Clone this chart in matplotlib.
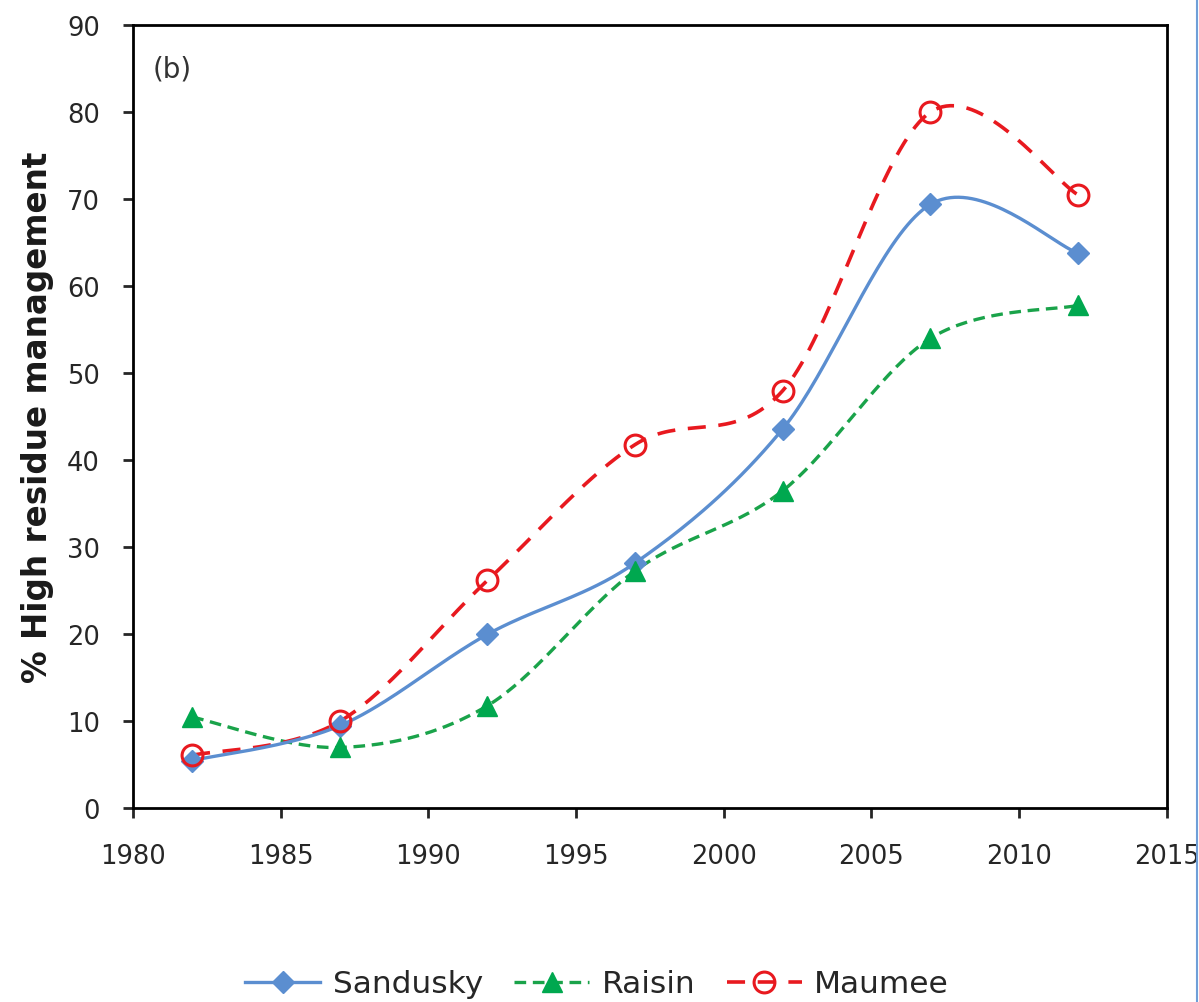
import numpy as np
from matplotlib import pyplot as plt
from matplotlib.lines import Line2D

years = [1982, 1987, 1992, 1997, 2002, 2007, 2012]
sandusky = [5.5, 9.5, 20.0, 28.2, 43.6, 69.4, 63.8]
raisin = [10.5, 7.0, 11.8, 27.3, 36.5, 54.0, 57.8]
maumee = [6.1, 10.0, 26.2, 41.8, 48.0, 80.0, 70.5]

plt.rcParams['font.family'] = ['DejaVu Sans']


def smooth(x, y, n=40):
    # spreadsheet-style smoothed line: cubic bezier through each point,
    # control handles at 1/6 of the neighbour-to-neighbour span
    x = np.asarray(x, float)
    y = np.asarray(y, float)
    px = np.concatenate([[x[0]], x, [x[-1]]])
    py = np.concatenate([[y[0]], y, [y[-1]]])
    xs, ys = [], []
    t = np.linspace(0, 1, n)
    for i in range(len(x) - 1):
        p0 = np.array([px[i + 1], py[i + 1]])
        p3 = np.array([px[i + 2], py[i + 2]])
        c1 = p0 + (np.array([px[i + 2], py[i + 2]]) - np.array([px[i], py[i]])) / 6
        c2 = p3 - (np.array([px[i + 3], py[i + 3]]) - np.array([px[i + 1], py[i + 1]])) / 6
        b = ((1 - t) ** 3)[:, None] * p0 + (3 * (1 - t) ** 2 * t)[:, None] * c1 \
            + (3 * (1 - t) * t ** 2)[:, None] * c2 + (t ** 3)[:, None] * p3
        xs.extend(b[:, 0])
        ys.extend(b[:, 1])
    return xs, ys


fig = plt.figure(figsize=(11.99, 10.03), dpi=100)
ax = fig.add_axes([0.111, 0.193, 0.862, 0.781])

blue = '#5b8ed0'
green = '#1aa34a'
red = '#e8191f'
text_col = '#262626'

sx, sy = smooth(years, sandusky)
ax.plot(sx, sy, color=blue, lw=2.4, solid_capstyle='round', zorder=3)
ax.plot(years, sandusky, ls='none', marker='D', ms=11, color=blue, zorder=4)

rx, ry = smooth(years, raisin)
ax.plot(rx, ry, color=green, lw=2.4, dashes=(3.5, 2), zorder=2)
ax.plot(years, raisin, ls='none', marker='^', ms=15, color='#00a84f', zorder=4)

mx, my = smooth(years, maumee)
ax.plot(mx, my, color=red, lw=2.6, dashes=(5, 3.5), zorder=2)
ax.plot(years, maumee, ls='none', marker='o', ms=15, mfc='none', mec=red,
        mew=2.2, color=red, zorder=4)

ax.set_xlim(1980, 2015)
ax.set_ylim(0, 90)
ax.set_xticks(range(1980, 2016, 5))
ax.set_yticks(range(0, 91, 10))
for s in ax.spines.values():
    s.set_linewidth(2)
ax.tick_params(direction='out', length=7, width=2, labelsize=18.5,
               colors=text_col)
ax.tick_params(axis='x', pad=18)
ax.tick_params(axis='y', pad=17)
ax.set_ylabel('% High residue management', fontsize=23.5, fontweight='bold',
              labelpad=9, color='#1a1a1a')
ax.text(0.019, 0.945, '(b)', transform=ax.transAxes, fontsize=20, va='center',
        color='#333333')

handles = [
    Line2D([], [], color=blue, lw=2.4, marker='D', ms=11),
    Line2D([], [], color=green, lw=2.4, dashes=(3.5, 2), marker='^', ms=15,
           mfc='#00a84f', mec='#00a84f'),
    Line2D([], [], color=red, lw=2.6, dashes=(5, 3.5), marker='o', ms=15,
           mfc='none', mec=red, mew=2.2),
]
fig.legend(handles, ['Sandusky', 'Raisin', 'Maumee'], loc='center',
           bbox_to_anchor=(0.498, 0.018), ncol=3, frameon=False, fontsize=22.5,
           handlelength=2.4, handletextpad=0.4, columnspacing=1.0,
           labelcolor=text_col)

# thin frame edge on the right side
fig.add_artist(Line2D([0.9985, 0.9985], [0, 1], color='#6f9fd8', lw=1.5,
                      transform=fig.transFigure))

fig.savefig('out.png', dpi=100)
